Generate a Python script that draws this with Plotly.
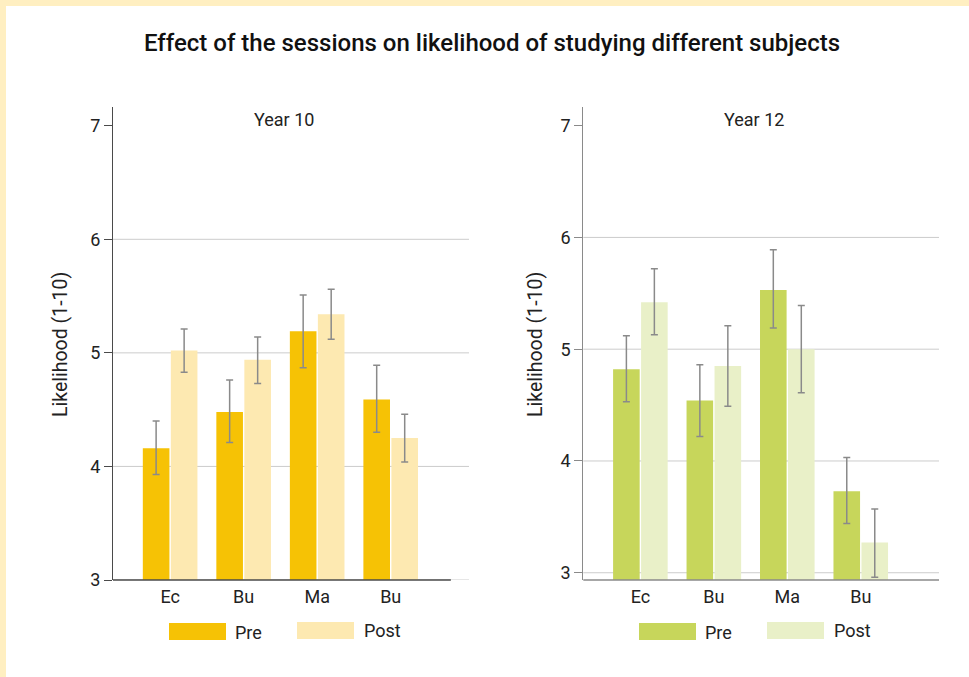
import plotly.graph_objects as go

# ---------------- data ----------------
subjects = ["Ec", "Bu", "Ma", "Bu"]
series_names = ["Pre", "Post"]
panel_titles = ["Year 10", "Year 12"]
y_title = "Likelihood (1-10)"
chart_title = "Effect of the sessions on likelihood of studying different subjects"
y_ticks = [3, 4, 5, 6, 7]
grid_vals = [3, 4, 5, 6]

y10_pre = [4.16, 4.48, 5.19, 4.59]
y10_pre_plus = [0.24, 0.28, 0.32, 0.30]
y10_pre_minus = [0.23, 0.27, 0.32, 0.29]
y10_post = [5.02, 4.94, 5.34, 4.25]
y10_post_plus = [0.19, 0.20, 0.22, 0.21]
y10_post_minus = [0.19, 0.21, 0.22, 0.21]

y12_pre = [4.82, 4.54, 5.53, 3.73]
y12_pre_plus = [0.30, 0.32, 0.36, 0.30]
y12_pre_minus = [0.29, 0.32, 0.34, 0.29]
y12_post = [5.42, 4.85, 5.00, 3.27]
y12_post_plus = [0.30, 0.36, 0.39, 0.30]
y12_post_minus = [0.29, 0.36, 0.39, 0.31]

# ---------------- style ----------------
W, H = 969, 677
FONT = "Roboto"
TXT = "#222222"
ERR = "#8a8a8a"
GRID = "#cccccc"
col10 = ["#F6C205", "#FDE9B1"]
col12 = ["#C7D65B", "#E9F0C8"]
axis_col = ["#4a4a4a", "#8a8a8a"]

xpos = list(range(len(subjects)))


def px_x(p):
    return p / W


def px_y(p):
    return 1 - p / H


fig = go.Figure()


def add_bars(vals, plus, minus, color, name, xa, ya):
    fig.add_trace(go.Bar(
        x=xpos, y=vals, name=name, xaxis=xa, yaxis=ya,
        marker=dict(color=color, line=dict(width=0)),
        error_y=dict(type="data", symmetric=False, array=plus, arrayminus=minus,
                     color=ERR, thickness=1.5, width=3.5),
        showlegend=False, hoverinfo="skip",
    ))


add_bars(y10_pre, y10_pre_plus, y10_pre_minus, col10[0], series_names[0], "x", "y")
add_bars(y10_post, y10_post_plus, y10_post_minus, col10[1], series_names[1], "x", "y")
add_bars(y12_pre, y12_pre_plus, y12_pre_minus, col12[0], series_names[0], "x2", "y2")
add_bars(y12_post, y12_post_plus, y12_post_minus, col12[1], series_names[1], "x2", "y2")

dom_y = [px_y(580), px_y(107)]
xrange = [-0.777, 4.065]


def xaxis(dom):
    return dict(domain=dom, range=xrange, tickvals=xpos, ticktext=subjects,
                showgrid=False, zeroline=False, showline=False, ticks="",
                automargin=False, ticklabelstandoff=4,
                tickfont=dict(family=FONT, size=18, color=TXT), fixedrange=True)


def yaxis(rng, anchor, lc):
    return dict(domain=dom_y, range=rng, anchor=anchor, tickvals=y_ticks,
                showgrid=False, zeroline=False, showline=True, linecolor=lc,
                linewidth=1.3, ticks="outside", ticklen=8, tickcolor=lc, tickwidth=1,
                automargin=False,
                tickfont=dict(family=FONT, size=18, color=TXT), fixedrange=True)


shapes = [
    dict(type="rect", xref="paper", yref="paper", x0=px_x(6), x1=1, y0=0, y1=px_y(6),
         fillcolor="white", line=dict(width=0), layer="below"),
]
for v in grid_vals:
    shapes.append(dict(type="line", xref="x domain", yref="y", x0=0, x1=1, y0=v, y1=v,
                       line=dict(color=GRID, width=1), layer="below"))
    shapes.append(dict(type="line", xref="x2 domain", yref="y2", x0=0, x1=1, y0=v, y1=v,
                       line=dict(color=GRID, width=1), layer="below"))
# x axis lines
shapes.append(dict(type="line", xref="x domain", yref="y domain", x0=0, x1=0.949, y0=0, y1=0,
                   line=dict(color=axis_col[0], width=1.5)))
shapes.append(dict(type="line", xref="x2 domain", yref="y2 domain", x0=0, x1=1, y0=0, y1=0,
                   line=dict(color=axis_col[1], width=1.5)))

annotations = []
# panel titles
for t, xp in zip(panel_titles, [284, 754]):
    annotations.append(dict(text=t, xref="paper", yref="paper", x=px_x(xp), y=px_y(120),
                            xanchor="center", yanchor="middle", showarrow=False,
                            font=dict(family=FONT, size=18, color=TXT)))
# y titles
for xp in [60, 535]:
    annotations.append(dict(text=y_title, xref="paper", yref="paper", x=px_x(xp), y=px_y(345),
                            xanchor="center", yanchor="middle", showarrow=False, textangle=-90,
                            font=dict(family=FONT, size=19.5, color=TXT)))

# custom legends
legend_specs = [
    (col10, [(169, 226, 623, 640, 233, 632), (297, 354, 622, 639, 362, 630)]),
    (col12, [(639, 696, 623, 640, 703, 632), (767, 824, 622, 639, 832, 630)]),
]
for cols, items in legend_specs:
    for (x0, x1, y0, y1, tx, ty), c, nm in zip(items, cols, series_names):
        shapes.append(dict(type="rect", xref="paper", yref="paper",
                           x0=px_x(x0), x1=px_x(x1), y0=px_y(y1), y1=px_y(y0),
                           fillcolor=c, line=dict(width=0)))
        annotations.append(dict(text=nm, xref="paper", yref="paper", x=px_x(tx), y=px_y(ty),
                                xanchor="left", yanchor="middle", showarrow=False,
                                font=dict(family=FONT, size=18, color=TXT)))

fig.update_layout(
    width=W, height=H, autosize=False,
    margin=dict(l=0, r=0, t=0, b=0, pad=0, autoexpand=False),
    paper_bgcolor="#FFEFC1",
    plot_bgcolor="rgba(0,0,0,0)",
    barmode="group", bargap=0.238, bargroupgap=0.05,
    title=dict(text=chart_title, x=px_x(492), y=px_y(43), xanchor="center", yanchor="middle",
               font=dict(family=FONT, size=24, color="#111111", weight=500)),
    xaxis=dict(**xaxis([px_x(113), px_x(469)]), anchor="y"),
    xaxis2=dict(**xaxis([px_x(583.3), px_x(939)]), anchor="y2"),
    yaxis=yaxis([3.0, 7.165], "x", axis_col[0]),
    yaxis2=yaxis([2.935, 7.167], "x2", axis_col[1]),
    shapes=shapes,
    annotations=annotations,
    showlegend=False,
)

fig.write_html("out.html", config={"displayModeBar": False},
               post_script="document.body.style.margin='0';document.body.style.overflow='hidden';")
